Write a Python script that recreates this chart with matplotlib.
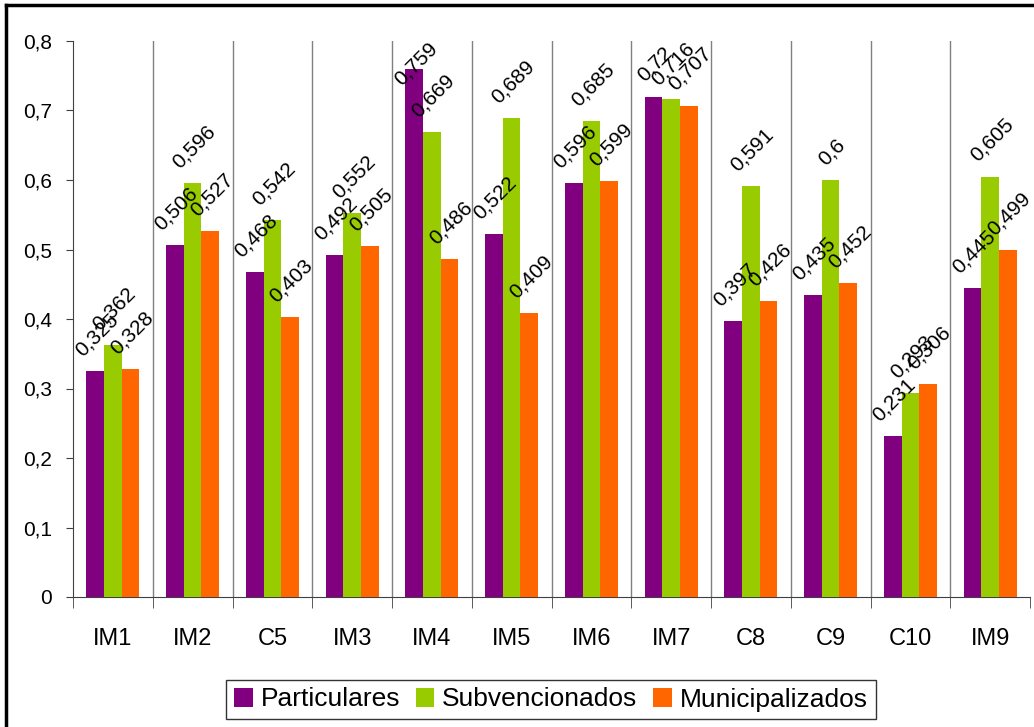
import numpy as np
import matplotlib.pyplot as plt
from matplotlib.lines import Line2D

plt.rcParams['font.family'] = ['Liberation Sans', 'DejaVu Sans']

categorias = ["IM1", "IM2", "C5", "IM3", "IM4", "IM5", "IM6", "IM7", "C8", "C9", "C10", "IM9"]
particulares = [0.325, 0.506, 0.468, 0.492, 0.759, 0.522, 0.596, 0.72, 0.397, 0.435, 0.231, 0.445]
subvencionados = [0.362, 0.596, 0.542, 0.552, 0.669, 0.689, 0.685, 0.716, 0.591, 0.6, 0.293, 0.605]
municipalizados = [0.328, 0.527, 0.403, 0.505, 0.486, 0.409, 0.599, 0.707, 0.426, 0.452, 0.306, 0.499]

series = [("Particulares", particulares, "#800080"),
          ("Subvencionados", subvencionados, "#99CC00"),
          ("Municipalizados", municipalizados, "#FF6600")]

def fmt(v):
    return ("%g" % v).replace(".", ",")

fig = plt.figure(figsize=(10.34, 7.27), dpi=100)
ax = fig.add_axes([73 / 1034, 1 - 597 / 727, (1030 - 73) / 1034, (597 - 41) / 727])

x = np.arange(len(categorias))
w = 0.222
etiquetas = []
for i, (nombre, vals, color) in enumerate(series):
    pos = x + (i - 1) * w
    ax.bar(pos, vals, width=w, color=color, label=nombre, zorder=3)
    for px, v in zip(pos, vals):
        t = ax.annotate(fmt(v), (px, v), xytext=(1, 8), textcoords="offset points",
                        rotation=45, ha="center", va="bottom", fontsize=15, zorder=4)
        etiquetas.append(t)

ax.set_xlim(-0.5, len(categorias) - 0.5)
ax.set_ylim(0, 0.8)
ticks = np.arange(0, 0.81, 0.1)
ax.set_yticks(ticks)
ax.set_yticklabels([fmt(round(t, 1)) for t in ticks], fontsize=15)

# separadores verticales entre categorias
bordes = np.arange(0.5, len(categorias) - 0.5, 1)
for b in bordes:
    ax.axvline(b, color="#808080", lw=1, zorder=1)

ax.set_xticks(x)
ax.set_xticklabels(categorias, fontsize=17)
ax.tick_params(axis="x", length=0, pad=22)
ax.set_xticks(np.arange(-0.5, len(categorias), 1), minor=True)
ax.tick_params(axis="x", which="minor", length=8, color="#404040", direction="out")
ax.tick_params(axis="y", length=5, color="#404040", pad=10)

for s in ["top", "right"]:
    ax.spines[s].set_visible(False)
ax.spines["left"].set_color("#404040")
ax.spines["bottom"].set_color("#404040")

leg = fig.legend(loc="center", bbox_to_anchor=(551 / 1034, 1 - 699.5 / 727), ncol=3,
                 fontsize=19, frameon=True, fancybox=False, edgecolor="black",
                 handlelength=0.7, handleheight=0.7, handletextpad=0.3,
                 columnspacing=0.6, borderpad=0.3)
leg.get_frame().set_linewidth(1)

# marco exterior del grafico
fig.add_artist(Line2D([6 / 1034, 6 / 1034], [0, 1 - 5 / 727], transform=fig.transFigure,
                      color="black", lw=2.5))
fig.add_artist(Line2D([6 / 1034, 1], [1 - 5 / 727, 1 - 5 / 727], transform=fig.transFigure,
                      color="black", lw=2.5))

# las etiquetas que se salen por arriba se bajan hasta el borde del area
fig.canvas.draw()
r = fig.canvas.get_renderer()
tope = ax.get_window_extent(r).y1 + 2
for t in etiquetas:
    bb = t.get_window_extent(r)
    if bb.y1 > tope:
        dx, dy = t.xyann
        t.xyann = (dx, dy - (bb.y1 - tope) * 72 / fig.dpi)

fig.savefig("out.png", dpi=100)
